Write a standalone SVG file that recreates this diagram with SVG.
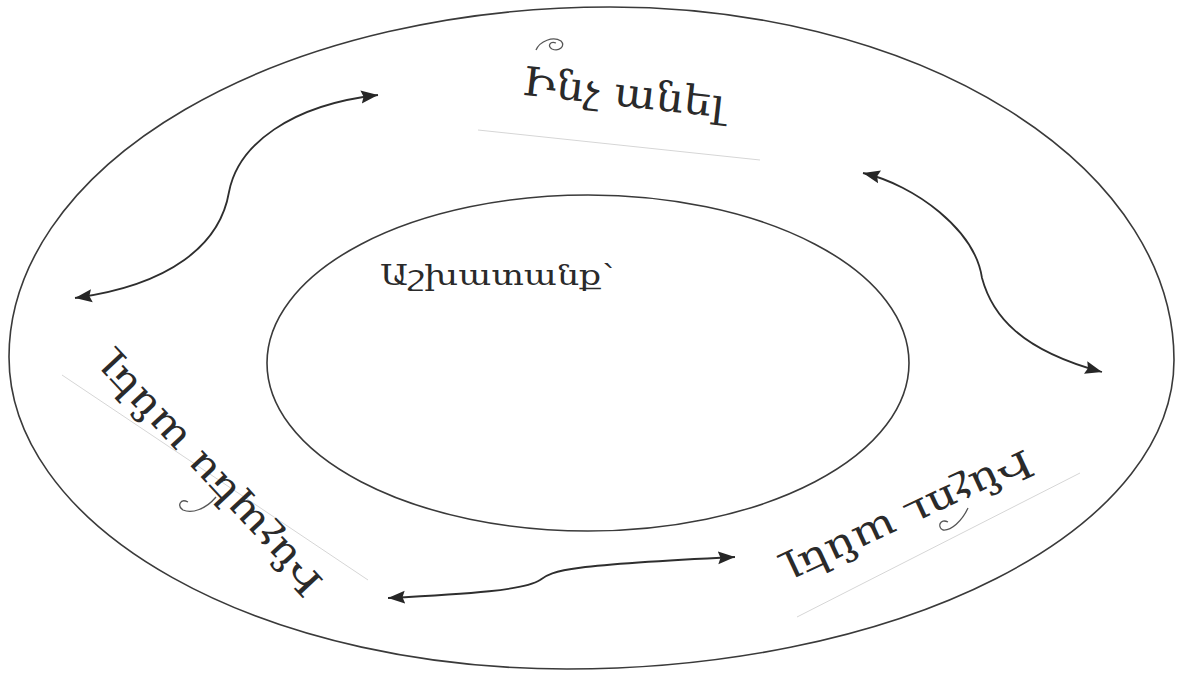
<svg xmlns="http://www.w3.org/2000/svg" width="1177" height="673" viewBox="0 0 1177 673">
<style>
.ring{fill:none;stroke:#3a3a3a;stroke-width:1.6}
.conn{fill:none;stroke:#2e2e2e;stroke-width:1.8}
.lbl{font-family:"DejaVu Serif",serif;fill:#2a2a2a}
.faint{stroke:#d6d6d6;stroke-width:1;fill:none}
.curl{fill:none;stroke:#555;stroke-width:1.3}
</style>
<defs>
<marker id="ah" markerUnits="userSpaceOnUse" markerWidth="18" markerHeight="14" refX="17" refY="7" orient="auto-start-reverse">
<path d="M0,0.5 L17,7 L0,13.5 L2.5,7 z" fill="#262626"/>
</marker>
</defs>
<rect width="1177" height="673" fill="#ffffff"/>
<g id="outer-ring">
<path class="ring" d="M 9,357 A 601 350 0 0 1 610,7 A 564 353 0 0 1 1174,360 A 607 309 0 0 1 567,669 A 558 312 0 0 1 9,357 Z"/>
</g>
<g id="inner-ring">
<ellipse class="ring" cx="588" cy="363" rx="321" ry="168"/>
</g>
<g id="node-center">
<text class="lbl" x="380" y="285" font-size="27" textLength="234" lengthAdjust="spacingAndGlyphs">Աշխատանք՝</text>
</g>
<g id="node-top">
<line class="faint" x1="478" y1="130" x2="760" y2="160"/>
<path class="curl" d="M 536,50 C 540,41 553,36 561,41 C 566,46 559,52 552,49 C 547,46 550,41 556,43"/>
<text class="lbl" x="622" y="106" font-size="40" text-anchor="middle" textLength="204" lengthAdjust="spacingAndGlyphs" transform="rotate(6.5 622 106)">Ինչ անել</text>
</g>
<g id="node-bottom-left">
<line class="faint" x1="62" y1="375" x2="368" y2="580"/>
<path class="curl" d="M 216,497 C 206,509 192,514 183,510 C 177,506 180,498 188,502"/>
<text class="lbl" x="219" y="468" font-size="38" text-anchor="middle" textLength="312" lengthAdjust="spacingAndGlyphs" transform="rotate(-133 219 468)">Ինչպես անել</text>
</g>
<g id="node-bottom-right">
<line class="faint" x1="797" y1="617" x2="1080" y2="473"/>
<path class="curl" d="M 968,508 C 962,521 951,531 943,530 C 937,527 940,518 948,522"/>
<text class="lbl" x="905" y="505" font-size="38" text-anchor="middle" textLength="268" lengthAdjust="spacingAndGlyphs" transform="rotate(155 905 505)">Ինչու անել</text>
</g>
<g id="connectors">
<path class="conn" marker-start="url(#ah)" marker-end="url(#ah)" d="M 378,95 C 290,105 238,145 229,192 C 220,245 170,285 75,298"/>
<path class="conn" marker-start="url(#ah)" marker-end="url(#ah)" d="M 863,173 C 915,185 975,230 982,278 C 992,315 1020,350 1102,372"/>
<path class="conn" marker-start="url(#ah)" marker-end="url(#ah)" d="M 388,598 C 470,594 525,590 540,580 C 552,570 570,565 735,557"/>
</g>
</svg>
